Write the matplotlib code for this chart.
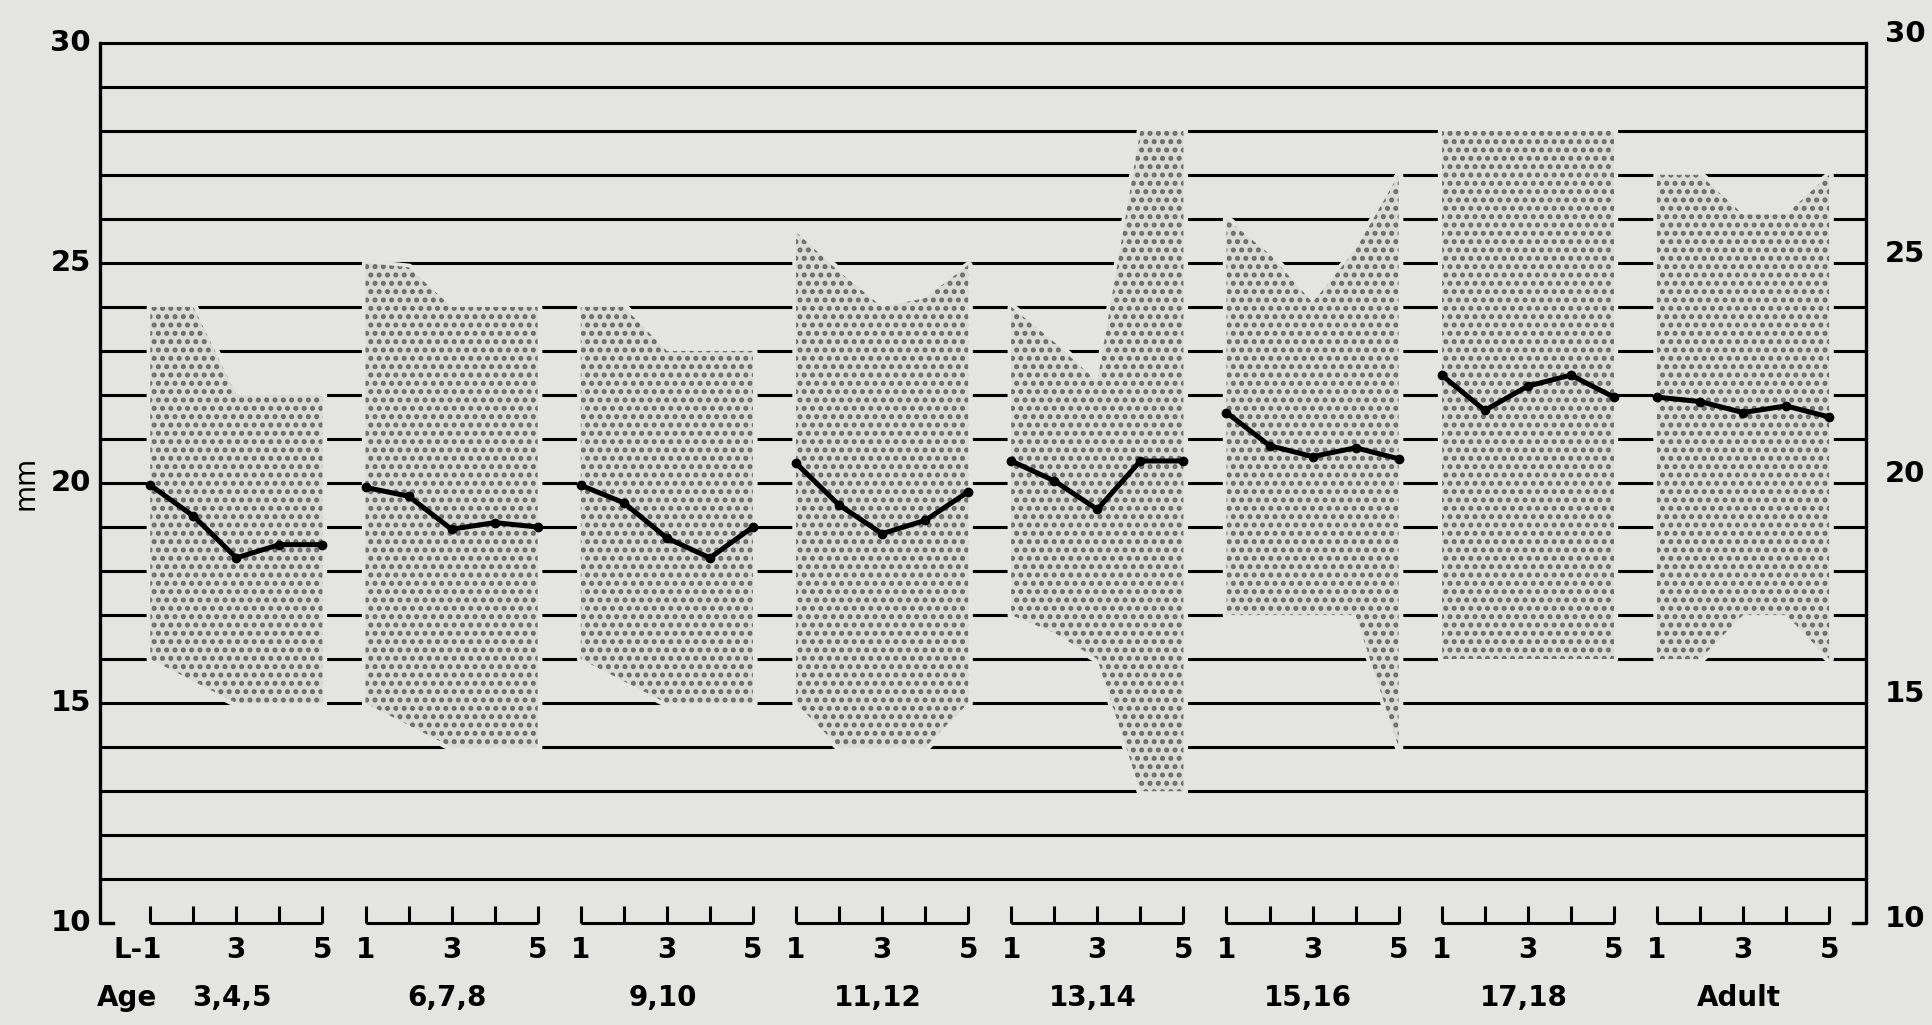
import matplotlib
matplotlib.use("Agg")
import matplotlib.pyplot as plt

# age groups along the bottom, 5 lumbar vertebrae in each
groups = ["3,4,5", "6,7,8", "9,10", "11,12", "13,14", "15,16", "17,18", "Adult"]
vert_ticks = [1, 3, 5]

# mean value per vertebra L1..L5 (mm)
means = [
    [19.95, 19.25, 18.3, 18.6, 18.6],
    [19.9, 19.7, 18.95, 19.1, 19.0],
    [19.95, 19.55, 18.75, 18.3, 19.0],
    [20.45, 19.5, 18.85, 19.15, 19.8],
    [20.5, 20.05, 19.4, 20.5, 20.5],
    [21.6, 20.85, 20.6, 20.8, 20.55],
    [22.45, 21.65, 22.2, 22.45, 21.95],
    [21.95, 21.85, 21.6, 21.75, 21.5],
]

# range of the group (shaded)
upper = [
    [24, 24, 22, 22, 22],
    [25, 24.9, 24, 24, 24],
    [24, 24, 23, 23, 23],
    [25.7, 24.8, 24.0, 24.2, 24.95],
    [24, 23.2, 22.3, 28, 28],
    [26, 25.2, 24.1, 25.3, 27],
    [28, 28, 28, 28, 28],
    [27, 27, 26.1, 26.1, 27],
]
lower = [
    [16, 15.5, 15, 15, 15],
    [15, 14.5, 14, 14, 14],
    [16, 15.5, 15, 15, 15],
    [15, 14, 14, 14, 15],
    [17, 16.6, 16, 13, 13],
    [17, 17, 17, 17, 14],
    [16, 16, 16, 16, 16],
    [16, 16, 17, 17, 16],
]

y_ticks = [10, 15, 20, 25, 30]

bg = "#e4e4e2"
plt.rcParams["hatch.linewidth"] = 2.4

fig = plt.figure(figsize=(19.32, 10.25), dpi=100, facecolor=bg)
ax = fig.add_axes([0, 0, 1, 1])
ax.set_facecolor(bg)
ax.set_xlim(-3.491, 41.39)
ax.set_ylim(7.69, 30.97)
ax.axis("off")

x_left, x_right = -1.16, 39.85

# horizontal rules every mm
for v in range(11, 31):
    ax.plot([x_left, x_right], [v, v], color="black", lw=2.2, zorder=1,
            solid_capstyle="butt")

# frame: left and right sides with little hooks at the bottom
ax.plot([x_left, x_left, x_left + 0.3], [30, 10.0, 10.0], color="black", lw=2.4, zorder=5)
ax.plot([x_right, x_right, x_right - 0.3], [30, 10.0, 10.0], color="black", lw=2.4, zorder=5)

for g in range(len(groups)):
    xs = [5 * g + i for i in range(5)]
    # clear the rules around the band, then the dotted band
    ax.fill_between(xs, lower[g], upper[g], facecolor=bg, edgecolor=bg, lw=6, zorder=2)
    ax.fill_between(xs, lower[g], upper[g], facecolor="#dadad8", edgecolor="#6a6a6a",
                    hatch="..", lw=0, zorder=3)
    ax.plot(xs, means[g], color="black", lw=3.6, marker="o", markersize=6, zorder=4)

    # bracket under each group
    ax.plot([xs[0], xs[-1]], [10.0, 10.0], color="black", lw=2.2, solid_capstyle="butt")
    for x in xs:
        ax.plot([x, x], [10.0, 10.4], color="black", lw=2.2, solid_capstyle="butt")
    for t in vert_ticks:
        lab = str(t)
        xt = xs[t - 1]
        if g == 0 and t == 1:
            lab = "L-1"
            xt = xs[0] - 0.3
        ax.text(xt, 9.39, lab, ha="center", va="center", fontsize=20, fontweight="bold")
    ax.text(xs[2] - 0.1, 8.3, groups[g], ha="center", va="center", fontsize=20,
            fontweight="bold")

ax.text(-0.53, 8.3, "Age", ha="center", va="center", fontsize=20, fontweight="bold")

for v in y_ticks:
    ax.text(-1.38, v, str(v), ha="right", va="center", fontsize=21, fontweight="semibold")
    ax.text(40.3, v + 0.2 if v > 10 else v + 0.1, str(v), ha="left", va="center",
            fontsize=21, fontweight="semibold")

ax.text(-2.89, 20.0, "mm", rotation=90, ha="center", va="center", fontsize=20)

fig.savefig("out.png", dpi=100, facecolor=bg)
